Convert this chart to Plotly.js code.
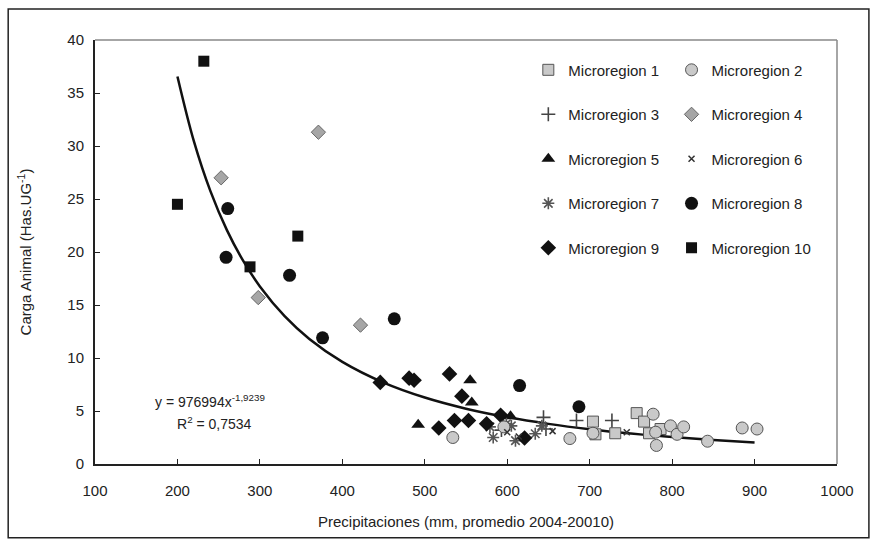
<!DOCTYPE html>
<html>
<head>
<meta charset="utf-8">
<script src="https://cdn.plot.ly/plotly-3.0.1.min.js"></script>
<style>html,body{margin:0;padding:0;background:#fff;}#chart{width:877px;height:545px;}</style>
</head>
<body>
<div id="chart"></div>
<script>
// ---- Data ----
var m1x = [704, 707, 731, 757, 766, 772, 786];
var m1y = [4.0, 2.8, 2.9, 4.8, 4.0, 2.9, 3.3];
var m2x = [534, 596, 676, 704, 777, 780, 781, 798, 806, 814, 843, 885, 903];
var m2y = [2.5, 3.5, 2.4, 2.9, 4.7, 3.0, 1.75, 3.6, 2.8, 3.5, 2.15, 3.4, 3.3];
var m3x = [593, 644, 647, 684, 727];
var m3y = [3.2, 4.4, 3.3, 4.1, 4.1];
var m4x = [253, 371, 298, 422];
var m4y = [27.0, 31.3, 15.7, 13.1];
var m5x = [492, 555, 557, 604];
var m5y = [3.7, 7.9, 5.8, 4.5];
var m6x = [600, 614, 655, 745];
var m6y = [3.0, 2.6, 3.1, 3.0];
var m7x = [579, 583, 599, 605, 610, 634, 642];
var m7y = [3.5, 2.5, 3.8, 3.6, 2.2, 2.85, 3.6];
var m8x = [261, 259, 336, 376, 463, 615, 687];
var m8y = [24.1, 19.5, 17.8, 11.9, 13.7, 7.4, 5.4];
var m9x = [446, 481, 487, 530, 545, 517, 536, 553, 575, 592, 621];
var m9y = [7.7, 8.1, 7.9, 8.5, 6.4, 3.4, 4.1, 4.1, 3.8, 4.6, 2.45];
var m10x = [232, 200, 288, 346];
var m10y = [38.0, 24.5, 18.6, 21.5];
// Trend line as printed on the chart: y = 976994 x^-1.9239 (x from 200 to 900)
var fitA = 976994, fitB = -1.9239;
var fitX = [200, 220, 240, 260, 280, 300, 330, 360, 400, 450, 500, 550, 600, 650, 700, 750, 800, 850, 900];
var fitY = fitX.map(function (x) { return fitA * Math.pow(x, fitB); });
var names = ['Microregion 1','Microregion 2','Microregion 3','Microregion 4','Microregion 5',
             'Microregion 6','Microregion 7','Microregion 8','Microregion 9','Microregion 10'];
var xTicks = [100,200,300,400,500,600,700,800,900,1000];
var yTicks = [0,5,10,15,20,25,30,35,40];

var FONT = 'Liberation Sans, Arial, sans-serif';
function sc(x, y, i, marker, leg) {
  return {x: x, y: y, name: names[i], type: 'scatter', mode: 'markers', marker: marker,
          legend: leg, legendgroup: 'g' + i, cliponaxis: false};
}
var traces = [
  {x: fitX, y: fitY, type: 'scatter', mode: 'lines', line: {color: '#111', width: 2.5, shape: 'spline'},
   showlegend: false, hoverinfo: 'skip'},
  sc(m1x, m1y, 0, {symbol: 'square', size: 11, color: '#c9c9c9', line: {color: '#555', width: 1}}, 'legend'),
  sc(m3x, m3y, 2, {symbol: 'cross-thin', size: 10, color: '#444', line: {color: '#444', width: 1.6}}, 'legend'),
  sc(m5x, m5y, 4, {symbol: 'triangle-up', size: 12, color: '#111', line: {color: '#111', width: 0}}, 'legend'),
  sc(m7x, m7y, 6, {symbol: 'asterisk', size: 10, color: '#555', line: {color: '#555', width: 1.6}}, 'legend'),
  sc(m9x, m9y, 8, {symbol: 'diamond', size: 12, color: '#111', line: {color: '#111', width: 0}}, 'legend'),
  sc(m2x, m2y, 1, {symbol: 'circle', size: 12, color: '#c9c9c9', line: {color: '#555', width: 1}}, 'legend2'),
  sc(m4x, m4y, 3, {symbol: 'diamond', size: 11, color: '#a6a6a6', line: {color: '#666', width: 1}}, 'legend2'),
  sc(m6x, m6y, 5, {symbol: 'x-thin', size: 6, color: '#333', line: {color: '#333', width: 1.5}}, 'legend2'),
  sc(m8x, m8y, 7, {symbol: 'circle', size: 13, color: '#111', line: {color: '#111', width: 0}}, 'legend2'),
  sc(m10x, m10y, 9, {symbol: 'square', size: 11, color: '#111', line: {color: '#111', width: 0}}, 'legend2')
];

var legCommon = {bgcolor: 'rgba(0,0,0,0)', borderwidth: 0, font: {family: FONT, size: 15, color: '#222'},
                 tracegroupgap: 22, yanchor: 'top', xanchor: 'left', itemclick: false};
var layout = {
  width: 877, height: 545,
  margin: {l: 95, r: 40, t: 40, b: 81},
  paper_bgcolor: '#fff', plot_bgcolor: '#fff',
  font: {family: FONT, size: 15, color: '#222'},
  xaxis: {range: [100, 1000], tickvals: xTicks, ticktext: xTicks.map(String), ticks: 'inside', ticklen: 5,
          tickcolor: '#222', showgrid: false, zeroline: false, showline: true, linecolor: '#222', linewidth: 2,
          ticklabelstandoff: 12,
          mirror: false, tickfont: {family: FONT, size: 15, color: '#222'},
          title: {text: 'Precipitaciones (mm, promedio 2004-20010)', font: {family: FONT, size: 15, color: '#222'}, standoff: 18}},
  yaxis: {range: [0, 40], tickvals: yTicks, ticktext: yTicks.map(String), ticks: 'inside', ticklen: 5,
          tickcolor: '#222', showgrid: false, zeroline: false, showline: true, linecolor: '#222', linewidth: 2,
          ticklabelstandoff: 6,
          tickfont: {family: FONT, size: 15, color: '#222'},
          title: {text: 'Carga Animal (Has.UG<sup>-1</sup>)', font: {family: FONT, size: 15, color: '#222'}, standoff: 32}},
  showlegend: true,
  legend: Object.assign({x: 0.584, y: 0.968}, legCommon),
  legend2: Object.assign({x: 0.777, y: 0.968}, legCommon),
  shapes: [
    {type: 'line', xref: 'paper', yref: 'paper', x0: 0, x1: 1, y0: 1, y1: 1, line: {color: '#888', width: 1.5}},
    {type: 'line', xref: 'paper', yref: 'paper', x0: 1, x1: 1, y0: 0, y1: 1, line: {color: '#888', width: 1.5}},
    {type: 'rect', xref: 'paper', yref: 'paper', x0: -0.117, x1: 1.043, y0: -0.174, y1: 1.073,
     line: {color: '#222', width: 1.5}}
  ],
  annotations: [
    {xref: 'x', yref: 'y', x: 239, y: 5.9, text: 'y = 976994x<sup>-1,9239</sup>', showarrow: false,
     font: {family: FONT, size: 14, color: '#222'}},
    {xref: 'x', yref: 'y', x: 245, y: 3.9, text: 'R<sup>2</sup> = 0,7534', showarrow: false,
     font: {family: FONT, size: 14, color: '#222'}}
  ]
};
Plotly.newPlot('chart', traces, layout, {displayModeBar: false, staticPlot: true});
</script>
</body>
</html>
